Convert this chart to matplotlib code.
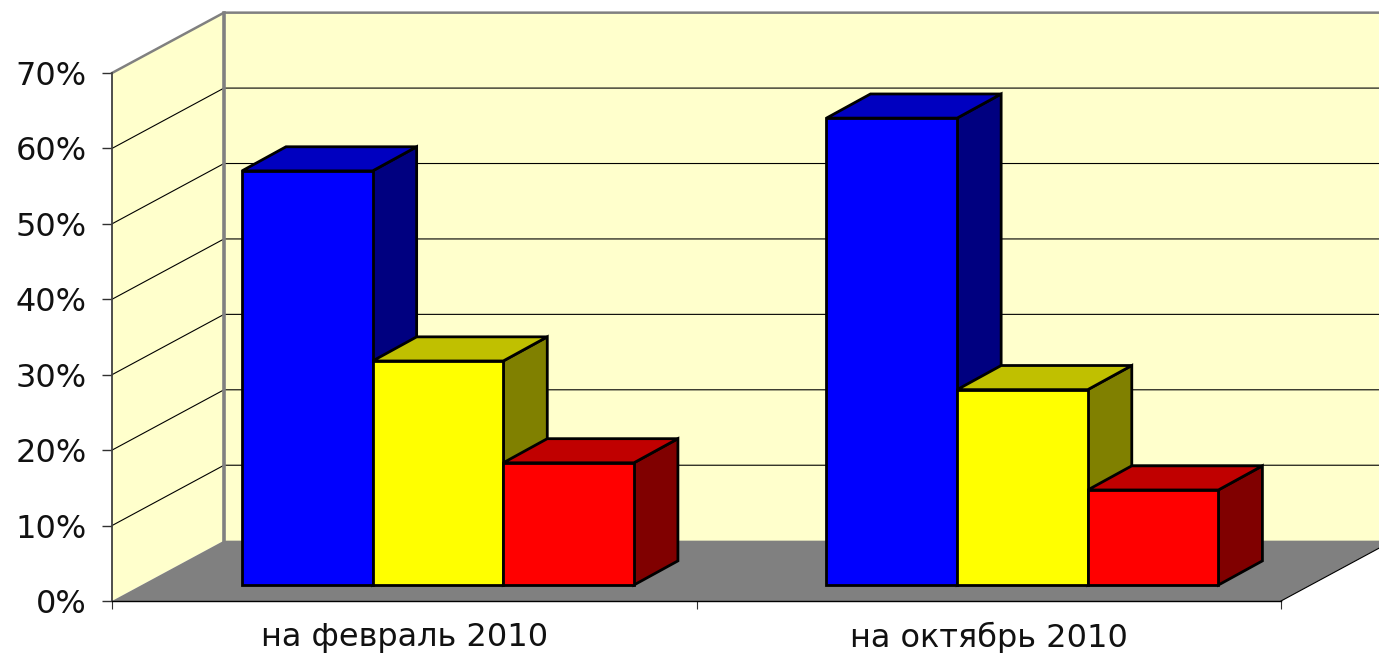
import matplotlib
matplotlib.use("Agg")
import matplotlib.pyplot as plt
from matplotlib.patches import Polygon

periods = ["на февраль 2010", "на октябрь 2010"]
series_values = [
    [54.9, 29.7, 16.2],
    [61.9, 25.9, 12.6],
]
y_ticks = [0, 10, 20, 30, 40, 50, 60, 70]
y_labels = ["0%", "10%", "20%", "30%", "40%", "50%", "60%", "70%"]

# front, top, side colour of each bar
bar_colors = [
    ("#0000ff", "#0000c0", "#000080"),
    ("#ffff00", "#c0c000", "#808000"),
    ("#ff0000", "#c00000", "#800000"),
]

# depth of the fake 3d box, in data units
WALL_DX, WALL_DY = 0.1916, 8.0
BAR_DX, BAR_DY = 0.0753, 3.2
BAR_W = 0.2235
BAR_START = 0.2224
BAR_BASE = 2.12

W, H = 1379, 653
fig = plt.figure(figsize=(W / 100, H / 100), dpi=100)
ax = fig.add_axes([112 / W, 1 - 601 / H, (1281 - 112) / W, (601 - 73) / H])
ax.set_xlim(0, 2)
ax.set_ylim(0, 70)
ax.patch.set_visible(False)


def poly(pts, color, z, edge="none", lw=0):
    ax.add_patch(Polygon(pts, closed=True, facecolor=color, edgecolor=edge,
                         linewidth=lw, zorder=z, clip_on=False, joinstyle="miter"))


# walls and floor
poly([(0, 0), (WALL_DX, WALL_DY), (WALL_DX, 70 + WALL_DY), (0, 70)], "#ffffcc", 1)
poly([(WALL_DX, WALL_DY), (2 + WALL_DX, WALL_DY), (2 + WALL_DX, 70 + WALL_DY),
      (WALL_DX, 70 + WALL_DY)], "#ffffcc", 1)
poly([(0, 0), (2, 0), (2 + WALL_DX, WALL_DY), (WALL_DX, WALL_DY)], "#808080", 2)

# grid lines run along the side wall and then the back wall
for v in y_ticks[1:-1]:
    ax.plot([0, WALL_DX, 2 + WALL_DX], [v, v + WALL_DY, v + WALL_DY],
            color="black", lw=0.8, zorder=3, clip_on=False)
ax.plot([0, WALL_DX, 2 + WALL_DX], [70, 70 + WALL_DY, 70 + WALL_DY],
        color="#808080", lw=1.8, zorder=3, clip_on=False)
ax.plot([WALL_DX, WALL_DX], [WALL_DY, 70 + WALL_DY], color="#808080", lw=2.6,
        zorder=3, clip_on=False)
ax.plot([2, 2 + WALL_DX], [0, WALL_DY], color="black", lw=0.8, zorder=3, clip_on=False)

# bars, drawn left to right so the next bar covers the side of the last one
for i, values in enumerate(series_values):
    for j, v in enumerate(values):
        x0 = i + BAR_START + j * BAR_W
        x1 = x0 + BAR_W
        y0 = BAR_BASE
        y1 = BAR_BASE + v
        front, top, side = bar_colors[j]
        z = 5 + j
        poly([(x1, y0), (x1 + BAR_DX, y0 + BAR_DY), (x1 + BAR_DX, y1 + BAR_DY), (x1, y1)],
             side, z, "black", 2.0)
        poly([(x0, y1), (x1, y1), (x1 + BAR_DX, y1 + BAR_DY), (x0 + BAR_DX, y1 + BAR_DY)],
             top, z, "black", 2.0)
        poly([(x0, y0), (x1, y0), (x1, y1), (x0, y1)], front, z, "black", 2.0)

# axes
for name in ("top", "right"):
    ax.spines[name].set_visible(False)
ax.spines["left"].set_color("#404040")
ax.spines["left"].set_linewidth(1.3)
ax.spines["bottom"].set_color("black")
ax.spines["bottom"].set_linewidth(1.0)
ax.spines["left"].set_zorder(4)
ax.spines["bottom"].set_zorder(4)

ax.set_yticks(y_ticks)
ax.set_yticklabels(y_labels)
ax.tick_params(axis="y", length=7, width=1, color="#303030", pad=11,
               labelsize=23, labelcolor="#111111")
ax.set_xticks([0, 1, 2])
ax.set_xticklabels([])
ax.tick_params(axis="x", length=6, width=0.8, color="#303030")
ax.set_xticks([0.5, 1.5], minor=True)
ax.set_xticklabels(periods, minor=True)
ax.tick_params(axis="x", which="minor", length=0, pad=15, labelsize=23, labelcolor="#111111")

fig.savefig("out.png", dpi=100, facecolor="white")
